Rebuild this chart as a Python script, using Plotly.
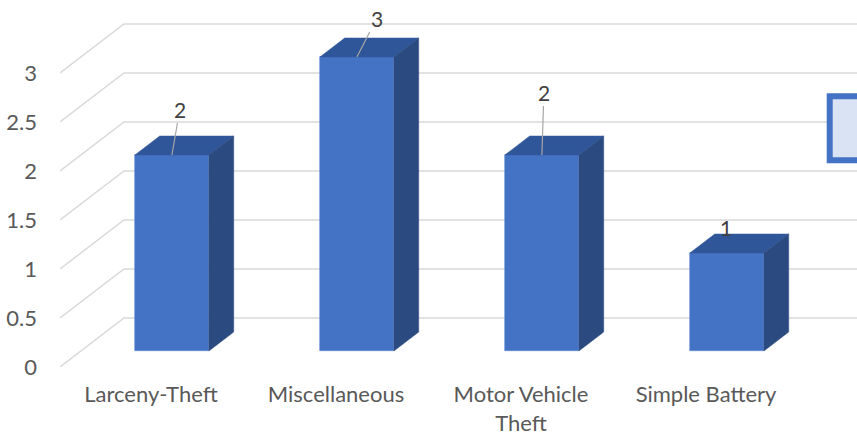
import plotly.graph_objects as go

# ---- data ----
categories = ["Larceny-Theft", "Miscellaneous", "Motor Vehicle<br>Theft", "Simple Battery"]
values = [2, 3, 2, 1]
ytick_vals = [0, 0.5, 1, 1.5, 2, 2.5, 3]
ytick_text = ["0", "0.5", "1", "1.5", "2", "2.5", "3"]

# ---- geometry (styling) ----
W, H = 857, 436
ML, MR, MT, MB = 60, 0, 0, 69
PX_CAT = 185.0
PX_VAL = 98.0
x_lo = -(151 - ML) / PX_CAT
x_hi = x_lo + (W - ML - MR) / PX_CAT
y_hi = (H - MB - MT) / PX_VAL

floor_dx = 64 / PX_CAT
floor_dy = 49 / PX_VAL
d_front = 16 / 49
d_back = 35 / 49
bar_w = 74 / PX_CAT

FRONT = "#4472C4"
TOP = "#30569A"
SIDE = "#2A4A80"
GRID = "#D9D9D9"
FONT = "Lato"

fig = go.Figure()

# gridlines (floor slant + back wall) as shapes below traces
shapes = []
for v in ytick_vals:
    path = (f"M {x_lo},{v} L {x_lo + floor_dx},{v + floor_dy} L {x_hi},{v + floor_dy}")
    shapes.append(dict(type="path", path=path, xref="x", yref="y",
                       line=dict(color=GRID, width=1.5), layer="below"))

fdx, fdy = floor_dx * d_front, floor_dy * d_front
ddx, ddy = floor_dx * (d_back - d_front), floor_dy * (d_back - d_front)

# front faces
fig.add_trace(go.Bar(
    x=[i + fdx for i in range(len(values))], y=values,
    base=[fdy] * len(values), width=bar_w,
    marker=dict(color=FRONT, line=dict(color="#5B86D2", width=0.6)),
    hoverinfo="skip", showlegend=False))

annotations = []
label_off = [(8, -46), (20, -39), (2, -63), (-1, -26)]
for i, v in enumerate(values):
    cx = i + fdx
    x0, x1 = cx - bar_w / 2, cx + bar_w / 2
    yb, yt = fdy, v + fdy
    # top face
    fig.add_trace(go.Scatter(
        x=[x0, x1, x1 + ddx, x0 + ddx, x0],
        y=[yt, yt, yt + ddy, yt + ddy, yt],
        mode="lines", fill="toself", fillcolor=TOP,
        line=dict(color=TOP, width=0.5), hoverinfo="skip", showlegend=False))
    # side face
    fig.add_trace(go.Scatter(
        x=[x1, x1 + ddx, x1 + ddx, x1, x1],
        y=[yb, yb + ddy, yt + ddy, yt, yb],
        mode="lines", fill="toself", fillcolor=SIDE,
        line=dict(color=SIDE, width=0.5), hoverinfo="skip", showlegend=False))
    ax, ay = label_off[i]
    show_arrow = ay < -30
    if show_arrow:
        annotations.append(dict(
            x=cx, y=yt, xref="x", yref="y", text=str(v),
            showarrow=True, ax=ax, ay=ay, arrowhead=0, arrowwidth=1.2,
            arrowcolor="#A6A6A6", standoff=0, startstandoff=0,
            font=dict(family=FONT, size=21, color="#404040")))
    else:
        annotations.append(dict(
            x=cx, y=yt, xref="x", yref="y", text=str(v),
            showarrow=False, xshift=ax, yshift=-ay,
            font=dict(family=FONT, size=21, color="#404040")))

# cut-off legend box at the right edge
shapes.append(dict(type="rect", xref="paper", yref="paper",
                   x0=(829.7 - ML) / (W - ML - MR), x1=1.05,
                   y0=1 - (160.3 - MT) / (H - MT - MB), y1=1 - (96.3 - MT) / (H - MT - MB),
                   line=dict(color="#4472C4", width=6), fillcolor="#DAE3F3", layer="above"))

fig.update_layout(
    width=W, height=H,
    margin=dict(l=ML, r=MR, t=MT, b=MB, autoexpand=False),
    paper_bgcolor="white", plot_bgcolor="white",
    showlegend=False,
    shapes=shapes, annotations=annotations,
    xaxis=dict(range=[x_lo, x_hi], tickvals=list(range(len(categories))),
               ticktext=categories, showgrid=False, zeroline=False, showline=False,
               ticks="", ticklabelstandoff=12, automargin=False,
               tickfont=dict(family=FONT, size=22, color="#595959"), fixedrange=True),
    yaxis=dict(range=[0, y_hi], tickvals=ytick_vals, ticktext=ytick_text,
               showgrid=False, zeroline=False, showline=False, ticks="",
               ticklabelstandoff=22, automargin=False,
               tickfont=dict(family=FONT, size=22, color="#595959"), fixedrange=True),
    bargap=0,
)

fig.write_html("out.html", config={"displayModeBar": False},
               post_script="document.body.style.margin='0';document.body.style.overflow='hidden';")
